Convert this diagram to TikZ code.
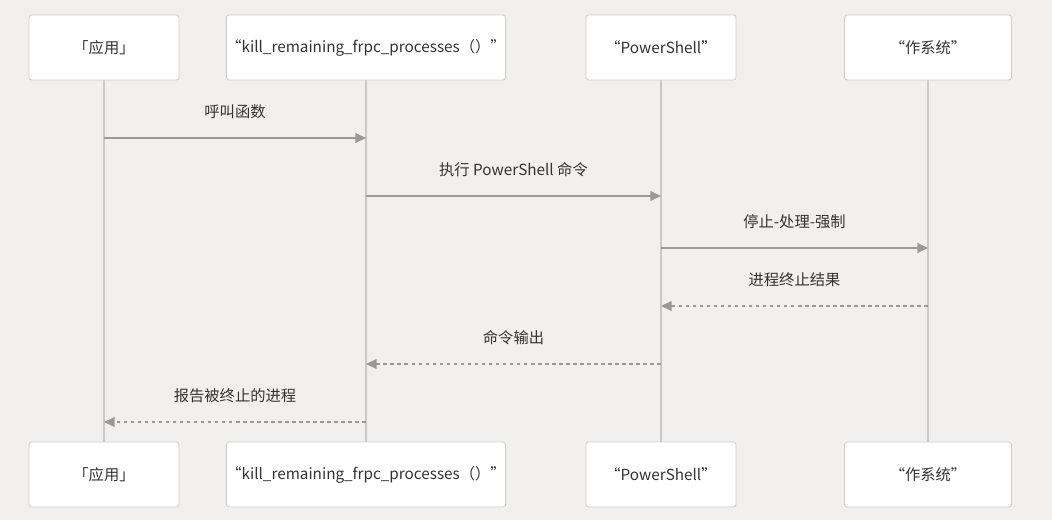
\documentclass[tikz,border=0pt]{standalone}
\usepackage{fontspec}
\setmainfont{Noto Sans CJK SC}
\usetikzlibrary{arrows.meta,calc}

\definecolor{bgcol}{HTML}{F2F0EF}
\definecolor{boxline}{HTML}{CFCFCF}
\definecolor{lifecol}{HTML}{C8C8C8}
\definecolor{msgcol}{HTML}{999999}
\definecolor{txtcol}{HTML}{333333}

\begin{document}
\begin{tikzpicture}[x=0.02cm, y=-0.02cm,
    actor/.style={draw=boxline, fill=white, rounded corners=1.5pt, line width=0.5pt,
      minimum height=1.3cm, inner sep=0pt, text=txtcol, font=\fontsize{8.7pt}{10pt}\selectfont},
    life/.style={draw=lifecol, line width=1.2pt},
    msg/.style={draw=msgcol, line width=0.8pt, -{Triangle[length=6pt, width=5.5pt]}},
    reply/.style={msg, dash pattern=on 2pt off 2pt},
    lbl/.style={text=txtcol, font=\fontsize{8.7pt}{10pt}\selectfont}]
    \fill[bgcol] (0,0) rectangle (1052,520);
    \foreach \i/\x/\w/\name in {0/104/150/{「应用」},
        1/366/274/{“kill\_remaining\_frpc\_processes（）”},
        2/661/150/{“PowerShell”}, 3/928/167/{“作系统”}} {
      \node[actor, minimum width=\w*0.02cm](top\i) at (\x, 47.5) {\name};
      \node[actor, minimum width=\w*0.02cm](bot\i) at (\x, 474.5) {\name};
      \draw[life] (top\i.south) -- (bot\i.north);
    }
    % messages
    \foreach \a/\b/\y/\t/\s in {0/1/138/呼叫函数/msg, 1/2/196/执行 PowerShell 命令/msg,
        2/3/248/停止-处理-强制/msg, 3/2/306/进程终止结果/reply,
        2/1/364/命令输出/reply, 1/0/422/报告被终止的进程/reply} {
      \coordinate (from\y) at (top\a |- 0,\y);
      \coordinate (to\y) at (top\b |- 0,\y);
      \draw[\s] (from\y) -- (to\y);
      \node[lbl](lab\y) at ($(from\y)!0.5!(to\y)$) [yshift=0.53cm] {\t};
    }
  \end{tikzpicture}
\end{document}
